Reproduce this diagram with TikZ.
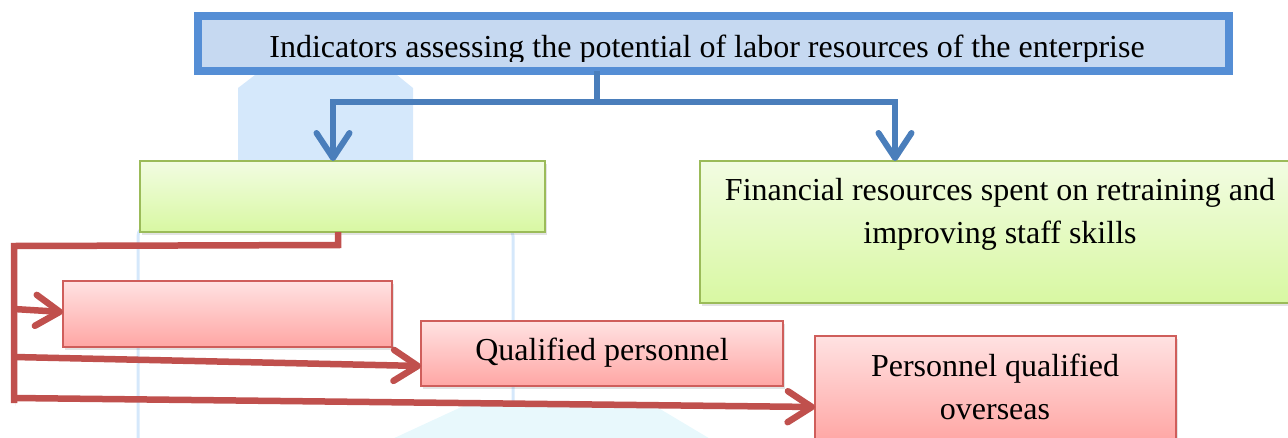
\documentclass[tikz,border=0pt]{standalone}
\usepackage{fontspec}
\setmainfont{Liberation Serif}
\usetikzlibrary{arrows.meta,shadows,calc}

\definecolor{titlefill}{HTML}{C6D9F1}
\definecolor{titleline}{HTML}{558ED5}
\definecolor{bluelink}{HTML}{4A7EBB}
\definecolor{greentop}{HTML}{F2FCE2}
\definecolor{greenbot}{HTML}{D8F8A2}
\definecolor{greenline}{HTML}{9BBB59}
\definecolor{redtop}{HTML}{FFE2E2}
\definecolor{redbot}{HTML}{FFA6A4}
\definecolor{redline}{HTML}{CF5E5B}
\definecolor{redlink}{HTML}{C0504D}
\definecolor{ghost}{HTML}{D5E8FB}
\definecolor{ghostcyan}{HTML}{E8F8FC}

\begin{document}
\begin{tikzpicture}[x=1pt,y=-1pt,
  every node/.style={inner sep=0pt,outer sep=0pt},
  label/.style={font=\fontsize{32}{43}\selectfont,anchor=base},
  softshadow/.style={drop shadow={opacity=0.22,shadow xshift=2pt,shadow yshift=-3pt}},
  titlebox/.style={draw=titleline,line width=8pt,fill=titlefill},
  greenbox/.style={draw=greenline,line width=2pt,top color=greentop,bottom color=greenbot,softshadow},
  redbox/.style={draw=redline,line width=2pt,top color=redtop,bottom color=redbot,softshadow},
  linkshadow/.style={preaction={draw=black,opacity=0.12,transform canvas={xshift=1.5pt,yshift=-2.5pt}}},
  bluearrow/.style={draw=bluelink,line width=6pt,linkshadow,-{Straight Barb[length=25pt,width=33pt,round]}},
  blueline/.style={draw=bluelink,line width=6pt,linkshadow},
  redarrow/.style={draw=redlink,line width=6.5pt,linkshadow,-{Straight Barb[length=24pt,width=31pt,round]}},
  redline/.style={draw=redlink,line width=6.5pt,linkshadow,line join=miter}
]
\useasboundingbox (0,0) rectangle (1288,437);
\clip (0,0) rectangle (1288,437);

% faint watermark shape behind the chart
\fill[ghost] (238,88) -- (255,75) -- (397,75) -- (413,88) -- (413,165) -- (238,165) -- cycle;
\draw[ghost,line width=3pt,rounded corners=10pt] (138,450) -- (138,226) -- (513,226) -- (513,450);
\fill[ghostcyan] (390,440) -- (470,403) -- (650,403) -- (712,440) -- cycle;

% boxes
\node[titlebox,minimum width=1031pt,minimum height=55pt] (title) at (713.5,43.5) {};
\node[greenbox,anchor=north west,minimum width=405pt,minimum height=71pt] (green1) at (140,161) {};
\node[greenbox,anchor=north west,minimum width=600pt,minimum height=142pt] (green2) at (700,161) {};
\node[redbox,anchor=north west,minimum width=329pt,minimum height=66pt] (redA) at (63,281) {};
\node[redbox,anchor=north west,minimum width=362pt,minimum height=65pt] (redB) at (421,321) {};
\node[redbox,anchor=north west,minimum width=361pt,minimum height=106pt] (redC) at (815,336) {};

% texts (the title line is cut off at its bottom)
\begin{scope}
  \clip (198,20) rectangle (1229,61);
  \node[label] (titletext) at (707,57) {Indicators assessing the potential of labor resources of the enterprise};
\end{scope}
\node[label] (green2a) at (1000,200) {Financial resources spent on retraining and};
\node[label] (green2b) at (1000,243) {improving staff skills};
\node[label] (redBtext) at (602,360) {Qualified personnel};
\node[label] (redCa) at (995,376) {Personnel qualified};
\node[label] (redCb) at (995,419) {overseas};

% blue connectors from the title
\coordinate (split) at (597,102);
\draw[blueline] (title.south -| split) -- (split);
\draw[bluearrow] (split) -| ($(green1.north west)+(193,0)$);
\draw[bluearrow] (split) -| ($(green2.north west)+(195,0)$);

% red connectors from the first green box
\coordinate (spine) at (14,246);
\coordinate (spineend) at (14,403);
\draw[redline] ($(green1.south west)+(198,0)$) -- ++(0,13) -- (spine) -- (spineend);
\draw[redarrow] (14,309) -- ($(redA.west)+(0,-2)$);
\draw[redarrow] (14,357) -- ($(redB.south west)+(0,-20)$);
\draw[redarrow] (14,398) -- ($(redC.north west)+(0,71)$);
\end{tikzpicture}
\end{document}
